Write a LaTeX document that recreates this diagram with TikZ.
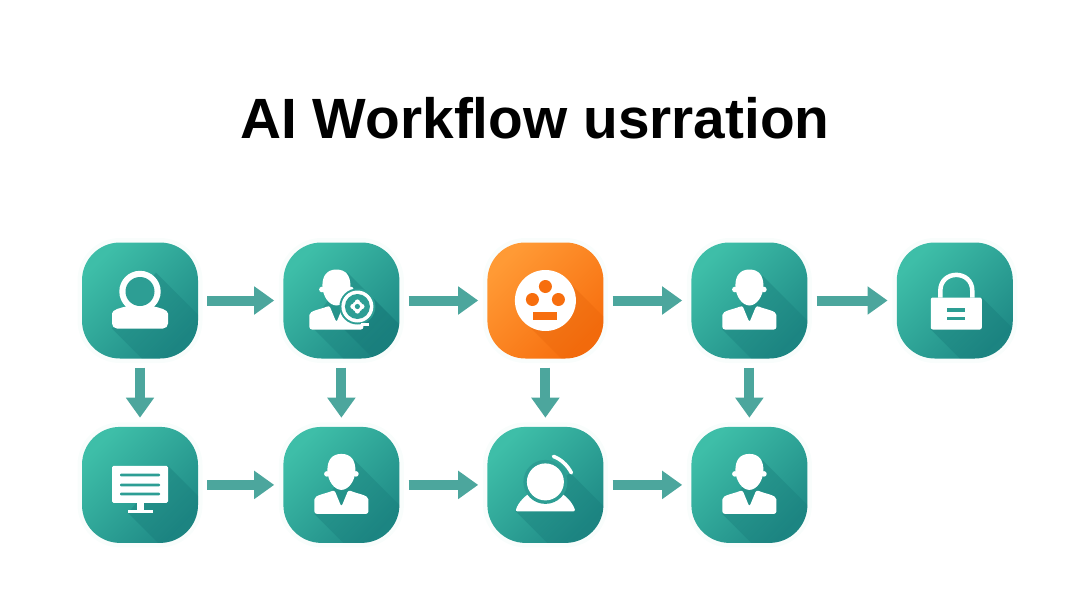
\documentclass[tikz,border=0pt]{standalone}
\usepackage{fontspec}
\usetikzlibrary{arrows.meta,positioning,fadings}
\setmainfont{Liberation Sans}
\definecolor{teallight}{HTML}{3EBEA8}
\definecolor{tealdark}{HTML}{1F8A86}
\definecolor{tealcut}{HTML}{2D9E94}
\definecolor{tealcast}{HTML}{0C6468}
\definecolor{orangelight}{HTML}{FF9A35}
\definecolor{orangedark}{HTML}{F76E0E}
\definecolor{orangecast}{HTML}{D85400}
\definecolor{arrowteal}{HTML}{4CA69D}
\tikzfading[name=castfade,top color=transparent!20,bottom color=transparent!100]
% drawn shadow of an icon, cut off by the box
\newcommand{\cast}[6][tealcast]{\begin{scope}[shift={(#2.center)}]\clip[rounded corners=38pt] (-58,-58) rectangle (58,58);
\fill[#1,opacity=.32,path fading=castfade,fading angle=45] (#3,#4)--(#5,#6)--(#5+90,#6+90)--(#3+90,#4+90)--cycle;\end{scope}}
% head and shoulders, #2 is the shift inside the box
\newcommand{\person}[2]{\begin{scope}[shift={(#1.center)},xshift=#2pt,white]
\fill (0,-31)..controls (10,-31) and (14,-24)..(14,-15)..controls (14,-4) and (7,5)..(0,5)..controls (-7,5) and (-14,-4)..(-14,-15)..controls (-14,-24) and (-10,-31)..(0,-31)--cycle;
\fill (-14.5,-11) circle (2.8pt);\fill (14.5,-11) circle (2.8pt);
\fill[rounded corners=2.5pt] (-27,29)--(-27,17)..controls (-27,10) and (-16,9)..(-7,5)--(0,22)--(7,5)..controls (16,9) and (27,10)..(27,17)--(27,29)--cycle;
\end{scope}}
\begin{document}
\begin{tikzpicture}[x=1pt,y=-1pt,node distance=68pt and 87.6pt,box/.style={minimum size=116pt,inner sep=0pt,rounded corners=38pt,top color=teallight,bottom color=tealdark,shading angle=45,preaction={draw=teallight!3,line width=9pt}},hubbox/.style={box,top color=orangelight,bottom color=orangedark,shading angle=45},flow/.style={draw=arrowteal,line width=10pt,-{Triangle[length=20pt,width=27pt]},shorten >=9pt,shorten <=9pt}]
\useasboundingbox (0,0) rectangle (1080,608);
\node[font=\bfseries\fontsize{56.8}{60}\selectfont](title) at (535,118){AI Workflow usrration};
\node[box](user) at (140,300.5){};
\node[box,right=85pt of user](agent){};
\node[hubbox,right=of agent](hub){};
\node[box,right=of hub](review){};
\node[box,right=89pt of review](lock){};
\node[box,below=of user](screen){};
\node[box,below=of agent](staff){};
\node[box,below=of hub](helper){};
\node[box,below=of review](result){};
\draw[flow](user)--(agent);\draw[flow](agent)--(hub);\draw[flow](hub)--(review);\draw[flow](review)--(lock);
\draw[flow](screen)--(staff);\draw[flow](staff)--(helper);\draw[flow](helper)--(result);
\draw[flow](user)--(screen);\draw[flow](agent)--(staff);\draw[flow](hub)--(helper);\draw[flow](review)--(result);
% user
\cast{user}{16}{-28}{-28}{28}
\begin{scope}[shift={(user.center)}]
\fill[white,rounded corners=5pt] (-28,28)--(-28,18)..controls (-28,9) and (-18,7)..(-10,5)--(10,5)..controls (18,7) and (28,9)..(28,18)--(28,28)--cycle;
\fill[white] (0,-9) circle (20.7pt);\fill[tealcut] (0,-9) circle (14.5pt);
\end{scope}
% agent
\cast{agent}{6}{-28}{-31}{25}
\cast{agent}{26}{-8}{0}{26}
\person{agent}{-5}
\begin{scope}[shift={(agent.center)}]
\fill[tealcut] (16,6) circle (18pt);\fill[white] (16,6) circle (16pt);\fill[tealcut] (16,6) circle (12.5pt);
\fill[white] (16,6) circle (5.5pt);\foreach \a in {0,90,180,270}{\fill[white] (\a:4.5)++(16,6) circle (2.6pt);}
\fill[tealcut] (16,6) circle (2.6pt);\fill[white] (20,22.5) rectangle (28,25);
\end{scope}
% hub
\cast[orangecast]{hub}{21}{-21}{-21}{21}
\begin{scope}[shift={(hub.center)}]
\fill[white] (0,0) circle (30.5pt);
\fill[orangedark] (0,-14) circle (6.5pt);\fill[orangedark] (-13,-1) circle (6.5pt);\fill[orangedark] (13,-1) circle (6.5pt);
\fill[orangedark] (-12,11.5) rectangle (12,19);
\end{scope}
% review
\cast{review}{13}{-25}{-27}{29}
\person{review}{0}
% lock
\cast{lock}{27}{-3}{-24}{29}
\begin{scope}[shift={(lock.center)}]
\draw[white,line width=4.5pt] (-14.5,-3)--(-14.5,-9.5)..controls (-14.5,-31) and (17.5,-31)..(17.5,-9.5)--(17.5,-3);
\fill[white,rounded corners=2pt] (-24,-3) rectangle (27,29);
\fill[tealcut] (-7.5,7.5) rectangle (10.5,11);\fill[tealcut] (-7.5,16) rectangle (10.5,19.5);
\end{scope}
% screen
\cast{screen}{28}{-19}{-12}{28}
\begin{scope}[shift={(screen.center)}]
\fill[white,rounded corners=1.5pt] (-28,-19) rectangle (28,18);
\fill[white] (-3.5,18) rectangle (3.5,26);\fill[white] (-12.5,25) rectangle (12.5,28);
\foreach \y in {-10,0,9}{\fill[tealcut,rounded corners=1pt] (-20,\y-1.4) rectangle (20,\y+1.4);}
\end{scope}
% staff
\cast{staff}{13}{-25}{-27}{29}
\person{staff}{0}
% helper
\cast{helper}{25}{-12}{-30}{26}
\begin{scope}[shift={(helper.center)}]
\fill[white,rounded corners=2pt] (-30,26.5)..controls (-27,17) and (-20,11)..(-14,7)--(14,7)..controls (20,11) and (27,17)..(30,26.5)--cycle;
\fill[tealcut] (0,-3) circle (22pt);\fill[white] (0,-3) circle (18.5pt);
\draw[white,line width=3.6pt,line cap=round] (8,-28.5)..controls (15,-26) and (22,-20)..(26,-12);
\end{scope}
% result
\cast{result}{13}{-25}{-27}{29}
\person{result}{0}
\end{tikzpicture}
\end{document}
